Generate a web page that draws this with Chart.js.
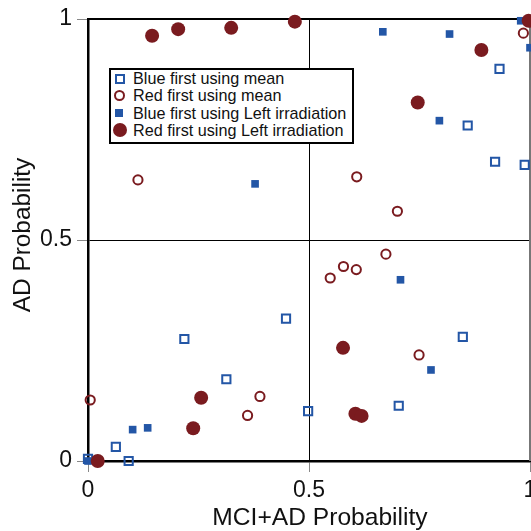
<!DOCTYPE html>
<html>
<head>
<meta charset="utf-8">
<script src="https://cdn.jsdelivr.net/npm/chart.js@4"></script>
<style>
    body { margin: 0; background: #fff; }
    #wrap { position: relative; width: 531px; height: 531px; }
    #legend {
        position: absolute; left: 109px; top: 68px; width: 241px; height: 72px;
        border: 2px solid #000; background: #fff;
        font-family: 'Liberation Sans', Arial, sans-serif; font-size: 16.2px; color: #111;
    }
    #legend .row { position: relative; height: 17.3px; line-height: 17.3px; padding-left: 22px; white-space: nowrap; }
    #legend .mk { position: absolute; box-sizing: border-box; }
</style>
</head>
<body>
<div id="wrap">
    <canvas id="scatterChart" width="531" height="531"></canvas>
    <div id="legend"></div>
</div>
<script>
// series values
const blueMeanX = [0.0, 0.063, 0.092, 0.218, 0.313, 0.448, 0.498, 0.703, 0.848, 0.859, 0.921, 0.931, 0.988];
const blueMeanY = [0.005, 0.032, 0.0, 0.276, 0.185, 0.322, 0.113, 0.125, 0.281, 0.759, 0.677, 0.887, 0.670];

const redMeanX = [0.005, 0.113, 0.361, 0.389, 0.548, 0.578, 0.607, 0.608, 0.674, 0.700, 0.749, 0.985];
const redMeanY = [0.138, 0.636, 0.103, 0.146, 0.414, 0.440, 0.433, 0.643, 0.468, 0.565, 0.240, 0.968];

const blueLeftX = [0.0, 0.101, 0.135, 0.378, 0.667, 0.707, 0.776, 0.795, 0.818, 0.979, 1.0];
const blueLeftY = [0.0, 0.071, 0.075, 0.627, 0.971, 0.410, 0.206, 0.770, 0.966, 0.996, 0.935];

const redLeftX = [0.022, 0.145, 0.204, 0.238, 0.256, 0.324, 0.468, 0.577, 0.605, 0.619, 0.746, 0.890, 0.997];
const redLeftY = [0.0, 0.962, 0.977, 0.074, 0.143, 0.980, 0.994, 0.256, 0.107, 0.102, 0.811, 0.930, 0.996];

const seriesNames = ['Blue first using mean', 'Red first using mean', 'Blue first using Left irradiation', 'Red first using Left irradiation'];
const axisTicks = [0, 0.5, 1];

const BLUE = '#2356a6';
const RED = '#7a1b1f';
const FONT = "'Liberation Sans', Arial, Helvetica, sans-serif";

function toPoints(xs, ys) {
    return xs.map((x, i) => ({ x: x, y: ys[i] }));
}

// nudge an axis title off its default centre
function shiftTitle(scale, dx, dy) {
    if (scale._titleShifted) return;
    const orig = scale.drawTitle.bind(scale);
    scale.drawTitle = function () {
        this.ctx.save();
        this.ctx.translate(dx, dy);
        orig();
        this.ctx.restore();
    };
    scale._titleShifted = true;
}

document.addEventListener('DOMContentLoaded', function () {
    const canvas = document.getElementById('scatterChart');

    // top and right edges of the box
    const frame = {
        id: 'frame',
        beforeDatasetsDraw(chart) {
            const { ctx, chartArea: a } = chart;
            ctx.save();
            ctx.strokeStyle = '#000';
            ctx.lineWidth = 2;
            ctx.beginPath();
            ctx.moveTo(a.left, a.top);
            ctx.lineTo(a.right, a.top);
            ctx.stroke();
            ctx.strokeStyle = '#777';
            ctx.beginPath();
            ctx.moveTo(a.right, a.top);
            ctx.lineTo(a.right, a.bottom);
            ctx.stroke();
            ctx.restore();
        }
    };

    const gridOpts = {
        color: (c) => (c.tick && c.tick.value === 0.5 ? '#000' : 'rgba(0,0,0,0)'),
        tickColor: '#888',
        tickLength: 11,
        lineWidth: 1
    };

    new Chart(canvas.getContext('2d'), {
        type: 'scatter',
        data: {
            datasets: [{
                label: seriesNames[0],
                data: toPoints(blueMeanX, blueMeanY),
                pointStyle: 'rect',
                pointRadius: 5.8,
                borderColor: BLUE,
                backgroundColor: 'rgba(255,255,255,0)',
                borderWidth: 2,
                order: 4
            }, {
                label: seriesNames[1],
                data: toPoints(redMeanX, redMeanY),
                pointStyle: 'circle',
                pointRadius: 4.6,
                borderColor: RED,
                backgroundColor: 'rgba(255,255,255,0)',
                borderWidth: 2,
                order: 3
            }, {
                label: seriesNames[2],
                data: toPoints(blueLeftX, blueLeftY),
                pointStyle: 'rect',
                pointRadius: 5.4,
                borderColor: BLUE,
                backgroundColor: BLUE,
                borderWidth: 0,
                order: 2
            }, {
                label: seriesNames[3],
                data: toPoints(redLeftX, redLeftY),
                pointStyle: 'circle',
                pointRadius: 7,
                borderColor: RED,
                backgroundColor: RED,
                borderWidth: 0,
                order: 1
            }]
        },
        options: {
            responsive: false,
            animation: false,
            clip: false,
            layout: { autoPadding: false, padding: { top: 19, right: 1, left: 0, bottom: 0 } },
            scales: {
                x: {
                    type: 'linear',
                    min: 0,
                    max: 1,
                    afterBuildTicks: (s) => { s.ticks = axisTicks.map(v => ({ value: v })); },
                    afterFit: (s) => {
                        s.height = 70; s.paddingLeft = 0; s.paddingRight = 0;
                        shiftTitle(s, 11, 0);
                    },
                    grid: gridOpts,
                    border: { color: '#000', width: 2.5 },
                    ticks: {
                        color: '#111',
                        padding: 5,
                        maxRotation: 0,
                        callback: (v) => String(v),
                        font: { family: FONT, size: 23 }
                    },
                    title: {
                        display: true,
                        text: 'MCI+AD Probability',
                        color: '#111',
                        padding: 0,
                        font: { family: FONT, size: 24.6, lineHeight: 1 }
                    }
                },
                y: {
                    type: 'linear',
                    min: 0,
                    max: 1,
                    afterBuildTicks: (s) => { s.ticks = axisTicks.map(v => ({ value: v })); },
                    afterFit: (s) => {
                        s.width = 88; s.paddingTop = 0; s.paddingBottom = 0;
                        shiftTitle(s, 0, -5);
                    },
                    grid: gridOpts,
                    border: { color: '#000', width: 2.5 },
                    ticks: {
                        color: '#111',
                        padding: 5,
                        callback: (v) => String(v),
                        font: { family: FONT, size: 23 }
                    },
                    title: {
                        display: true,
                        text: 'AD Probability',
                        color: '#111',
                        padding: { top: 11, bottom: 0 },
                        font: { family: FONT, size: 24.4, lineHeight: 1 }
                    }
                }
            },
            plugins: {
                legend: { display: false },
                tooltip: { enabled: false }
            }
        },
        plugins: [frame]
    });

    // legend box drawn in HTML so it can sit inside the plot
    const legend = document.getElementById('legend');
    const markers = [
        'left:4px;top:4px;width:10px;height:10px;border:2px solid ' + BLUE + ';',
        'left:3px;top:3px;width:11px;height:11px;border:2px solid ' + RED + ';border-radius:50%;',
        'left:4px;top:4.5px;width:8px;height:8px;background:' + BLUE + ';',
        'left:1.5px;top:1.5px;width:14px;height:14px;background:' + RED + ';border-radius:50%;'
    ];
    seriesNames.forEach((name, i) => {
        const row = document.createElement('div');
        row.className = 'row';
        const mk = document.createElement('span');
        mk.className = 'mk';
        mk.style.cssText = markers[i];
        row.appendChild(mk);
        row.appendChild(document.createTextNode(name));
        legend.appendChild(row);
    });
});
</script>
</body>
</html>
